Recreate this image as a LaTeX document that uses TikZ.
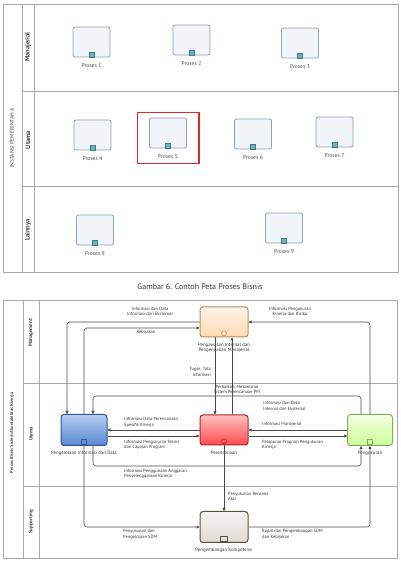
\documentclass[tikz,border=0pt]{standalone}
\usepackage{fontspec}
\setmainfont{PT Sans}
\usepackage{tikz}
\usetikzlibrary{positioning,arrows.meta,fit,backgrounds}
\definecolor{garis}{HTML}{4A4A4A}
\definecolor{batas}{HTML}{A8A8A8}
\definecolor{tugastepi}{HTML}{8AA2B4}
\definecolor{tugasisi}{HTML}{F1F5F9}
\definecolor{tandatepi}{HTML}{3C7C88}
\definecolor{tandaisi}{HTML}{6FB0B8}
\definecolor{sorot}{HTML}{D92A30}
\definecolor{oranyetepi}{HTML}{B98A62}
\definecolor{birutepi}{HTML}{2F5597}
\definecolor{biruatas}{HTML}{B3CBEF}
\definecolor{birubawah}{HTML}{5A88D2}
\definecolor{merahtepi}{HTML}{B31E22}
\definecolor{hijautepi}{HTML}{7FAE5C}
\definecolor{kremtepi}{HTML}{55533F}

\begin{document}
\begin{tikzpicture}[x=1pt, y=1pt,
      tugas/.style={draw=tugastepi, rounded corners=2pt, fill=tugasisi, line width=0.8pt,
                    minimum width=37pt, minimum height=30pt},
      tanda/.style={draw=tandatepi, fill=tandaisi, minimum size=5pt, inner sep=0pt, line width=0.5pt},
      nama/.style={font=\fontsize{5.5}{6.5}\selectfont, text=black!70, inner sep=0pt},
      lajur/.style={font=\bfseries\fontsize{6.5}{7.5}\selectfont, rotate=90, text=black!75},
      kolam/.style={font=\fontsize{5.5}{6.5}\selectfont, rotate=90, text=black!70},
      pisah/.style={draw=batas, line width=0.6pt},
      proses/.style={rounded corners=3pt, line width=1pt, minimum width=48pt, minimum height=30pt},
      ikon/.style={draw=#1, line width=0.5pt, minimum size=5pt, inner sep=0pt},
      ket/.style={font=\fontsize{4.5}{5.6}\selectfont, align=left, inner sep=0pt, text=black!80},
      namap/.style={font=\fontsize{4.8}{5.8}\selectfont, align=center, inner sep=0pt, text=black!80},
      panah/.style={draw=garis, line width=0.6pt, rounded corners=3pt, -{Triangle[length=3pt,width=3pt]}}]
    \useasboundingbox (0,0) rectangle (400,570);

    % peta proses (atas)
    \draw[pisah] (3,298) rectangle (398,566);
    \draw[pisah] (22,298) -- (22,566) (34,298) -- (34,566);
    \draw[pisah] (22,479) -- (398,479) (22,384) -- (398,384);
    \node[kolam] (instansi) at (12,432) {INSTANSI PEMERINTAH A};
    \node[lajur] (lmanaj) at (28,523) {Manajerial};
    \node[lajur] (lutama) at (28,430) {Utama};
    \node[lajur] (llain) at (28,340) {Lainnya};
    \foreach \i/\x/\y in {1/91.5/528, 2/191.5/530, 3/300/527, 4/92.5/435, 5/168/437,
                          6/253/436, 7/334.5/438, 8/95/340, 9/284/342} {
      \node[tugas] (p\i) at (\x,\y) {};
      \node[tanda] (t\i) at ([yshift=3pt]p\i.south) {};
      \node[nama, below=6pt of p\i] (l\i) {Proses \i};
    }
    \node[draw=sorot, line width=1.2pt, fit=(p5)(l5), inner xsep=12pt, inner ysep=5pt] (pilih) {};

    \node[font=\fontsize{8}{9}\selectfont, text=black!80] (judul) at (200,283) {Gambar 6. Contoh Peta Proses Bisnis};

    % proses bisnis (bawah)
    \draw[pisah] (3,12) rectangle (397,270);
    \draw[pisah] (23,12) -- (23,270) (39,12) -- (39,270);
    \draw[pisah] (23,187) -- (397,187) (23,84) -- (397,84);
    \node[kolam, font=\bfseries\fontsize{4.5}{5.5}\selectfont] (sistem) at (12,137) {Proses Bisnis Sistem Akuntabilitas Kinerja};
    \node[lajur, font=\bfseries\fontsize{5}{6}\selectfont] (lman) at (31,237) {Management};
    \node[lajur, font=\bfseries\fontsize{5}{6}\selectfont] (lut) at (31,136) {Utama};
    \node[lajur, font=\bfseries\fontsize{5}{6}\selectfont] (lsup) at (31,48) {Supporting};

    \node[proses, draw=oranyetepi, top color=orange!8, bottom color=orange!30] (mgr) at (224,248) {};
    \node[proses, draw=birutepi, top color=biruatas, bottom color=birubawah, minimum width=46pt, minimum height=31pt] (info) at (84,140) {};
    \node[proses, draw=merahtepi, top color=red!25, bottom color=red!70] (ren) at (224,140) {};
    \node[proses, draw=hijautepi, top color=green!40!yellow!12, bottom color=green!50!yellow!40, minimum width=45pt, minimum height=31pt] (ukur) at (370,140) {};
    \node[proses, draw=kremtepi, top color=black!4, bottom color=brown!30!gray!30, minimum height=31pt] (kom) at (224,43) {};
    \node[ikon=oranyetepi, circle, anchor=south] at ([yshift=1.5pt]mgr.south) {};
    \node[ikon=birutepi, anchor=south] at ([yshift=1.5pt]info.south) {};
    \node[ikon=merahtepi, circle, anchor=south] at ([yshift=1.5pt]ren.south) {};
    \node[ikon=hijautepi, anchor=south] at ([yshift=1.5pt]ukur.south) {};
    \node[ikon=kremtepi, anchor=south, minimum width=7pt] at ([yshift=1.5pt]kom.south) {};
    \node[namap, below=5pt of mgr] (nmgr) {Pengawasan Internal dan\\Pengendalian Manajerial};
    \node[namap, below=5pt of info] (ninfo) {Pengelolaan Informasi dan Data};
    \node[namap, below=5pt of ren] (nren) {Perencanaan};
    \node[namap, below=5pt of ukur] (nukur) {Pengukuran};
    \node[namap, below=5pt of kom] (nkom) {Pengembangan Kompetensi};

    \draw[panah] (mgr.west) -| ([xshift=-17pt]info.north);
    \draw[panah] (info.north) |- ([yshift=-6pt]mgr.west);
    \draw[panah] (ukur.north) |- (mgr.east);
    \draw[panah] ([xshift=-9pt]mgr.south) -- ([xshift=-9pt]ren.north);
    \draw[panah] ([xshift=8pt]ren.north) -- ([xshift=8pt]mgr.south);
    \draw[panah] ([xshift=-9pt]ukur.north) -- ++(0,18) -| ([xshift=9pt]info.north);
    \draw[panah] (ren.west) -- (info.east);
    \draw[panah] ([yshift=-6pt]info.east) -- ([yshift=-6pt]ren.west);
    \draw[panah] (ukur.west) -- (ren.east);
    \draw[panah] ([yshift=-6pt]ren.east) -- ([yshift=-6pt]ukur.west);
    \draw[panah] ([xshift=9pt]info.south) -- ++(0,-20) -| ([xshift=-9pt]ukur.south);
    \draw[panah] (ren.south) -- (kom.north);
    \draw[panah] (info.south) |- (kom.west);
    \draw[panah] (kom.east) -| (ukur.south);

    \node[ket, align=center] (ka) at (150,258.5) {Informasi dan Data\\Informasi dari Eksternal};
    \node[ket] (kb) at (146,238) {Kebijakan};
    \node[ket, align=center] (kc) at (290,258) {Informasi Pengukuran\\Kinerja dan Risiko};
    \node[ket, anchor=east, align=right] (kd) at (211,198) {Tugas, Tata\\Informasi};
    \node[ket, align=center] (ke) at (237,180.5) {Perbaikan, Mekanisme\\Sistem Perencanaan PM};
    \node[ket, anchor=west] (kf) at (263,164) {Informasi dan Data\\Internal dan Eksternal};
    \node[ket, anchor=west] (kg) at (124,147.5) {Informasi Data Perencanaan\\Spesifik Kinerja};
    \node[ket, anchor=west] (kh) at (124,125) {Informasi Pengukuran Teknis\\dan Capaian Program};
    \node[ket, anchor=west] (ki) at (262,146) {Informasi Manajerial};
    \node[ket, anchor=west] (kj) at (262,125) {Pelaporan Program Pengukuran\\Kinerja};
    \node[ket, anchor=west] (kk) at (124,96) {Informasi Penggunaan Anggaran\\Penyelenggaraan Kinerja};
    \node[ket, anchor=west] (kl) at (228,73.5) {Penyusunan Rencana\\Aksi};
    \node[ket, anchor=west] (km) at (123,35.5) {Penyusunan dan\\Pengelolaan SDM};
    \node[ket, anchor=west] (kn) at (262,35.5) {Rapat dan Pengembangan SDM\\dan Kebijakan};
  \end{tikzpicture}
\end{document}
